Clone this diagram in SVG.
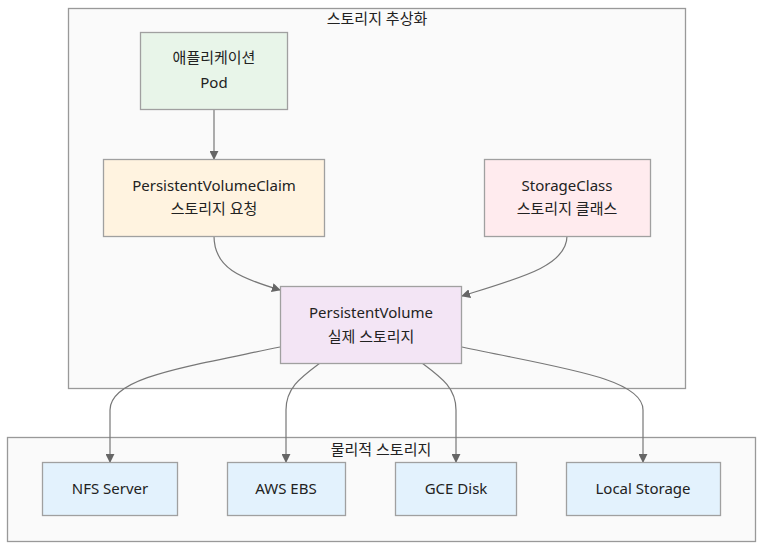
<svg xmlns="http://www.w3.org/2000/svg" width="772" height="554" viewBox="0 0 772 554">
<style>
.cl{fill:#fafafa;stroke:#999;stroke-width:1.3}
.n rect{stroke:#a0a0a0;stroke-width:1.3}
text{font-family:"Noto Sans","Noto Sans CJK KR",sans-serif;font-size:15px;fill:#222;text-anchor:middle}
.e{fill:none;stroke:#777;stroke-width:1.2;marker-end:url(#ah)}
</style>
<defs>
<marker id="ah" viewBox="0 0 10 10" refX="9" refY="5" markerWidth="9" markerHeight="9" markerUnits="userSpaceOnUse" orient="auto">
<path d="M0,0 L10,5 L0,10 z" fill="#666"/>
</marker>
</defs>
<rect width="772" height="554" fill="#fff"/>
<g id="cluster-abstract">
<rect class="cl" x="68.5" y="8.5" width="617" height="380"/>
<text x="377" y="24">스토리지 추상화</text>
</g>
<g id="cluster-physical">
<rect class="cl" x="7.5" y="437.5" width="748" height="104"/>
<text x="381" y="455">물리적 스토리지</text>
</g>
<g id="connectors">
<path class="e" d="M214,110 L214,159"/>
<path class="e" d="M214,236 C214,268 240,278 280,290"/>
<path class="e" d="M567,236 C567,266 520,278 462,296"/>
<path class="e" d="M280,347 C180,368 110,378 110,410 L110,462"/>
<path class="e" d="M320,363 C300,378 286,388 286,410 L286,462"/>
<path class="e" d="M422,363 C442,378 456,388 456,410 L456,462"/>
<path class="e" d="M462,347 C560,368 643,378 643,410 L643,462"/>
</g>
<g id="pod" class="n">
<rect x="140.5" y="32.5" width="147" height="77" fill="#e8f5e9"/>
<text x="214" y="63">애플리케이션</text>
<text x="214" y="88">Pod</text>
</g>
<g id="pvc" class="n">
<rect x="103.5" y="159.5" width="221" height="77" fill="#fff3e0"/>
<text x="214" y="191">PersistentVolumeClaim</text>
<text x="214" y="214">스토리지 요청</text>
</g>
<g id="sc" class="n">
<rect x="484.5" y="159.5" width="166" height="77" fill="#ffebee"/>
<text x="567" y="191">StorageClass</text>
<text x="567" y="214">스토리지 클래스</text>
</g>
<g id="pv" class="n">
<rect x="280.5" y="286.5" width="181" height="77" fill="#f3e5f5"/>
<text x="371" y="318">PersistentVolume</text>
<text x="371" y="342">실제 스토리지</text>
</g>
<g id="nfs" class="n">
<rect x="42.5" y="462.5" width="135" height="53" fill="#e3f2fd"/>
<text x="110" y="494">NFS Server</text>
</g>
<g id="ebs" class="n">
<rect x="227.5" y="462.5" width="118" height="53" fill="#e3f2fd"/>
<text x="286" y="494">AWS EBS</text>
</g>
<g id="gce" class="n">
<rect x="395.5" y="462.5" width="121" height="53" fill="#e3f2fd"/>
<text x="456" y="494">GCE Disk</text>
</g>
<g id="local" class="n">
<rect x="566.5" y="462.5" width="154" height="53" fill="#e3f2fd"/>
<text x="643" y="494">Local Storage</text>
</g>
</svg>
